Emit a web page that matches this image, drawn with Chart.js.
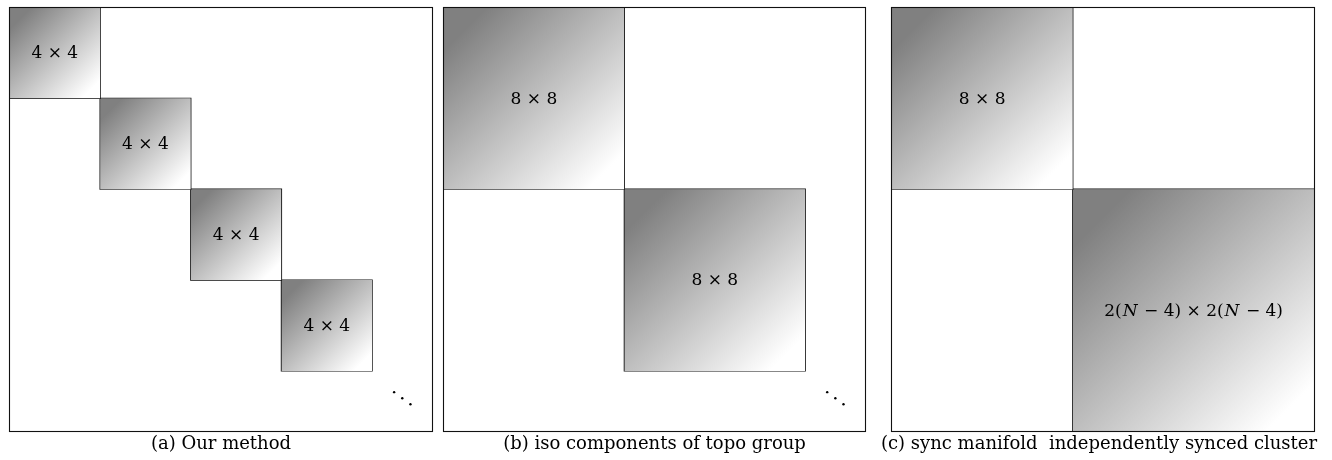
<!DOCTYPE html>
<html>
<head>
<meta charset="utf-8">
<script src="https://cdn.jsdelivr.net/npm/chart.js@4.4.1/dist/chart.umd.min.js"></script>
<style>
  body { margin: 0; background: #fff; width: 1332px; height: 460px; position: relative; overflow: hidden; }
  .panel { position: absolute; top: 6px; height: 427px; }
  .cap { position: absolute; top: 433px; font-family: "DejaVu Serif", serif; font-size: 18px; line-height: 20px;
         white-space: pre; transform: translateX(-50%); color: #000; }
</style>
</head>
<body>
<div class="panel" style="left:8px;width:426px"><canvas id="chartA"></canvas></div>
<div class="panel" style="left:442px;width:425px"><canvas id="chartB"></canvas></div>
<div class="panel" style="left:890px;width:426px"><canvas id="chartC"></canvas></div>
<div class="cap" id="capA" style="left:221px"></div>
<div class="cap" id="capB" style="left:654.5px"></div>
<div class="cap" id="capC" style="left:1099px"></div>
<script>
// grid units: each panel spans 0..14 on both axes
const gridSize = 14;
const blocksA = [[0, 3], [3, 6], [6, 9], [9, 12]];
const labelsA = ["4 × 4", "4 × 4", "4 × 4", "4 × 4"];
const blocksB = [[0, 6], [6, 12]];
const labelsB = ["8 × 8", "8 × 8"];
const blocksC = [[0, 6], [6, 14]];
const labelsC = ["8 × 8", "2(N − 4) × 2(N − 4)"];
const dotsX = [12.73, 13.0, 13.27];
const dotsY = [12.7, 12.9, 13.1];
const captions = ["(a) Our method", "(b) iso components of topo group", "(c) sync manifold  independently synced cluster"];

const ink = "#111";
const labelFont = '17px "DejaVu Serif"';
const italicFont = 'italic 17px "DejaVu Serif"';

function shade(b) {
  return function (c) {
    const chart = c.chart;
    if (!chart.chartArea) return "#bbb";
    const x = chart.scales.x, y = chart.scales.y;
    const g = chart.ctx.createLinearGradient(
      x.getPixelForValue(b[0]), y.getPixelForValue(b[0]),
      x.getPixelForValue(b[1]), y.getPixelForValue(b[1]));
    g.addColorStop(0.12, "#808080");
    g.addColorStop(0.9, "#ffffff");
    return g;
  };
}

// draw text, with the letter N set in italic
function drawMath(ctx, text, cx, cy) {
  const parts = text.split(/(N)/).filter(p => p.length);
  let total = 0;
  const widths = parts.map(p => {
    ctx.font = p === "N" ? italicFont : labelFont;
    const w = ctx.measureText(p).width + (p === "N" ? 2 : 0);
    total += w;
    return w;
  });
  let px = cx - total / 2;
  parts.forEach((p, i) => {
    ctx.font = p === "N" ? italicFont : labelFont;
    ctx.fillText(p, px + (p === "N" ? 1 : 0), cy);
    px += widths[i];
  });
}

const blockLabels = {
  id: "blockLabels",
  afterDraw(chart, args, opts) {
    const { ctx, chartArea } = chart;
    const x = chart.scales.x, y = chart.scales.y;
    ctx.save();
    ctx.strokeStyle = ink;
    ctx.lineWidth = 1.1;
    ctx.strokeRect(chartArea.left, chartArea.top, chartArea.right - chartArea.left, chartArea.bottom - chartArea.top);
    ctx.fillStyle = "#000";
    ctx.textBaseline = "middle";
    opts.blocks.forEach((b, i) => {
      const mid = (b[0] + b[1]) / 2;
      drawMath(ctx, opts.labels[i], x.getPixelForValue(mid), y.getPixelForValue(mid) + 1);
    });
    ctx.restore();
  }
};

function makePanel(id, blocks, labels, withDots) {
  const datasets = [];
  blocks.forEach(b => {
    datasets.push({
      data: [{ x: b[0], y: b[0] }, { x: b[1], y: b[0] }],
      fill: { target: { value: b[1] } },
      backgroundColor: shade(b),
      borderWidth: 0,
      pointRadius: 0
    });
    datasets.push({
      data: [{ x: b[0], y: b[0] }, { x: b[1], y: b[0] }, { x: b[1], y: b[1] }, { x: b[0], y: b[1] }, { x: b[0], y: b[0] }],
      fill: false,
      borderColor: ink,
      borderWidth: 1.3,
      pointRadius: 0,
      tension: 0
    });
  });
  if (withDots) {
    datasets.push({
      data: dotsX.map((v, i) => ({ x: v, y: dotsY[i] })),
      showLine: false,
      pointRadius: 1.2,
      pointBorderWidth: 0,
      pointBackgroundColor: "#000"
    });
  }
  return new Chart(document.getElementById(id), {
    type: "line",
    data: { datasets: datasets },
    options: {
      responsive: true,
      maintainAspectRatio: false,
      animation: false,
      layout: { padding: 1.5, autoPadding: false },
      plugins: {
        legend: { display: false },
        tooltip: { enabled: false },
        blockLabels: { blocks: blocks, labels: labels }
      },
      scales: {
        x: { type: "linear", min: 0, max: gridSize, display: false },
        y: { type: "linear", min: 0, max: gridSize, reverse: true, display: false }
      }
    },
    plugins: [blockLabels]
  });
}

makePanel("chartA", blocksA, labelsA, true);
makePanel("chartB", blocksB, labelsB, true);
makePanel("chartC", blocksC, labelsC, false);

document.getElementById("capA").textContent = captions[0];
document.getElementById("capB").textContent = captions[1];
document.getElementById("capC").textContent = captions[2];
</script>
</body>
</html>
